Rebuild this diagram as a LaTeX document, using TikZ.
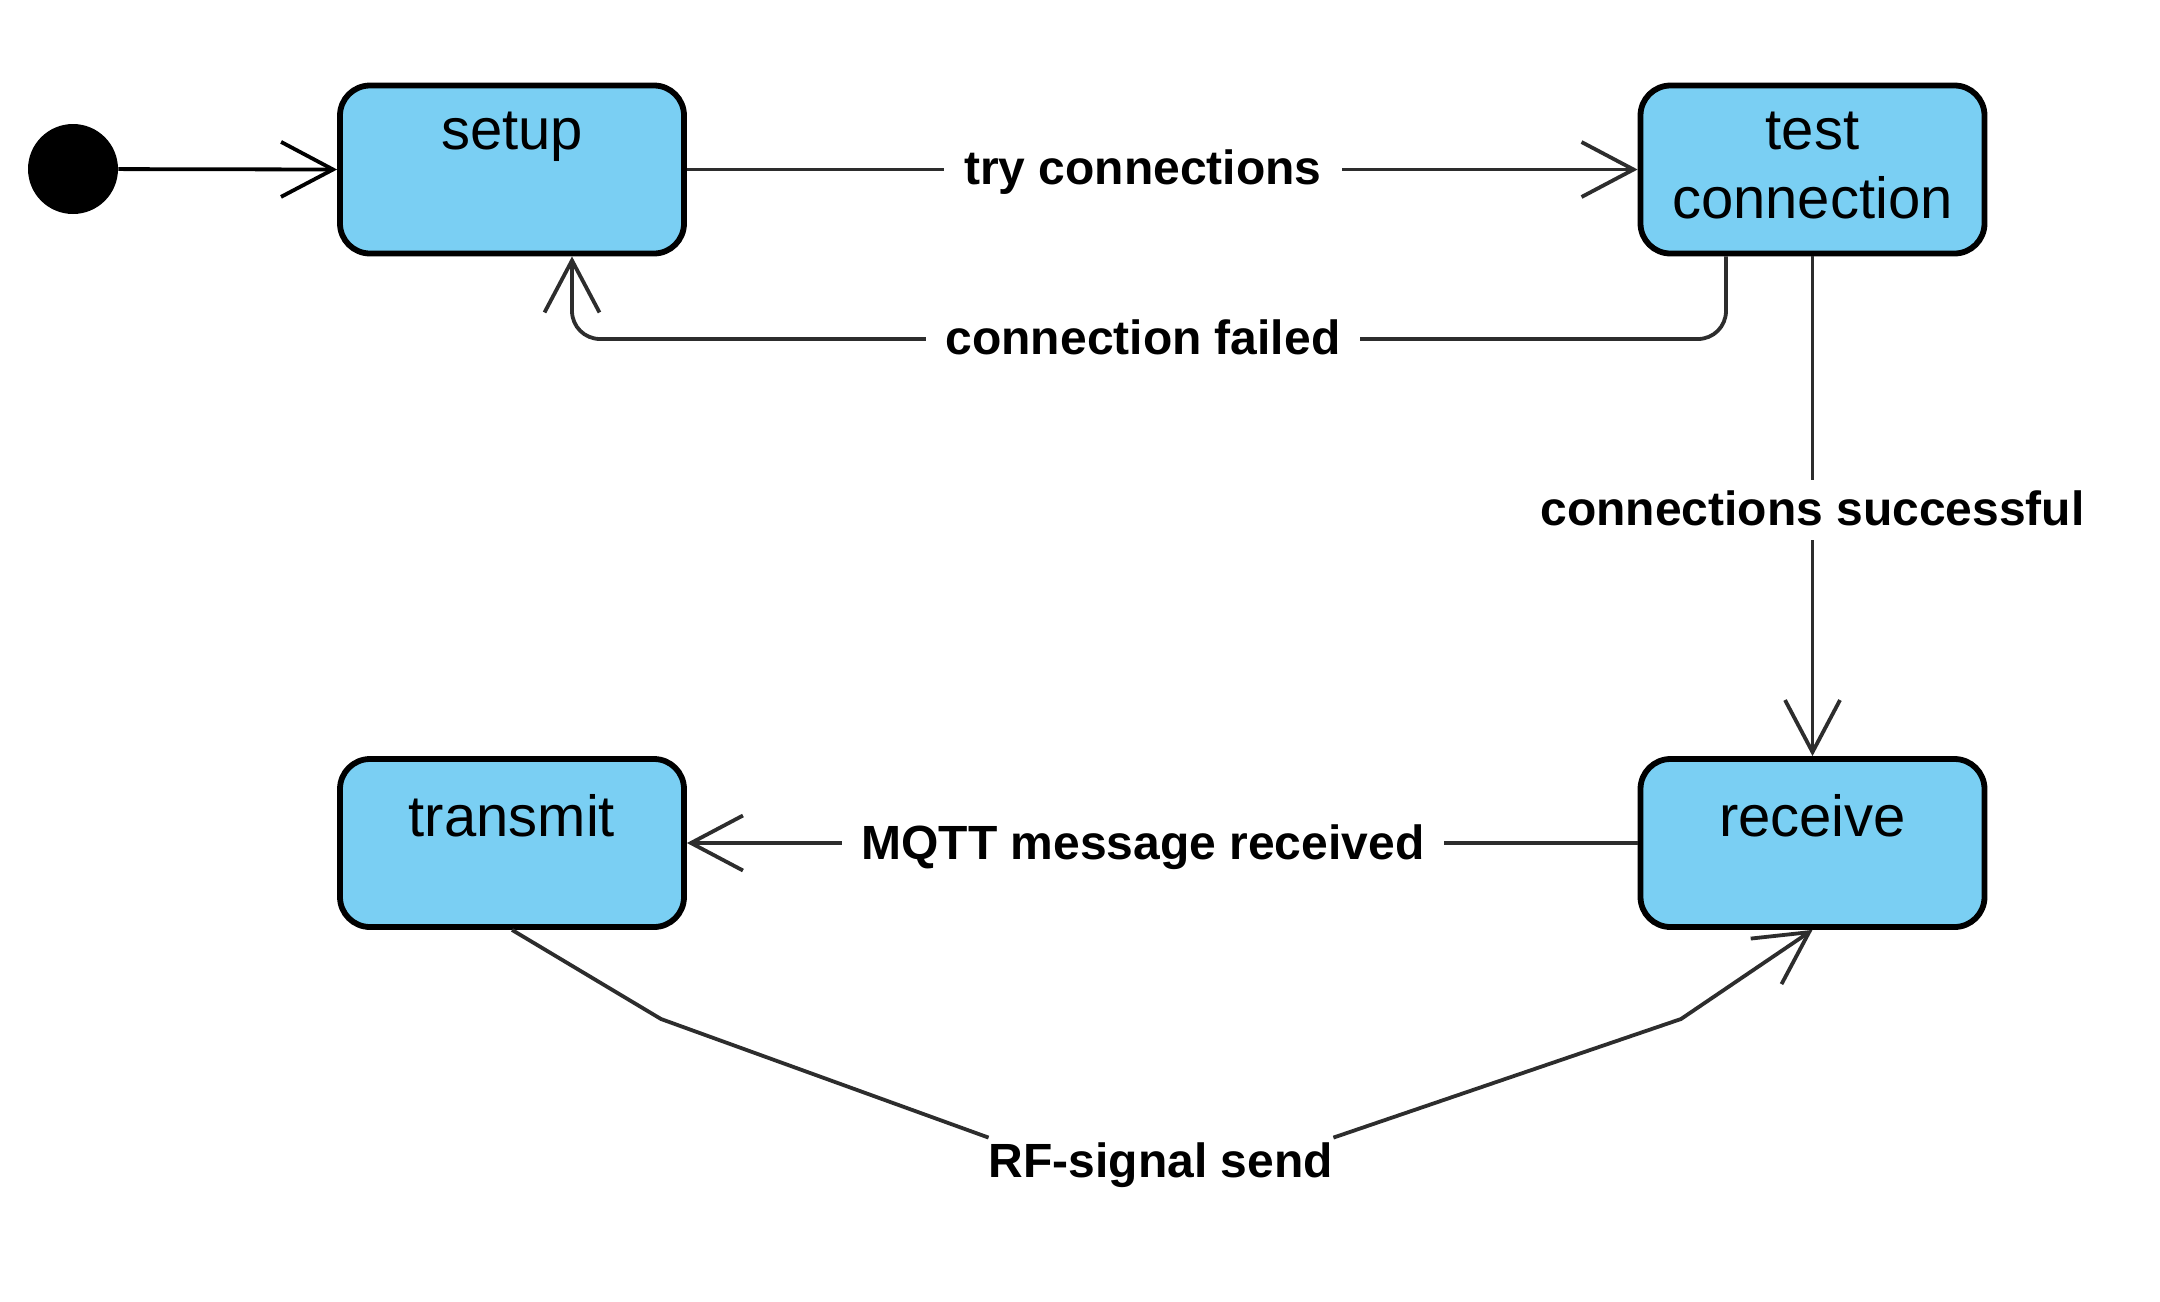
\documentclass[tikz,border=0pt]{standalone}
\usepackage{fontspec}
\setmainfont{Liberation Sans}
\usetikzlibrary{arrows.meta}
\definecolor{stfill}{RGB}{122,207,243}
\definecolor{conncol}{RGB}{45,45,45}
\begin{document}
\begin{tikzpicture}[x=0.5pt,y=-0.5pt,
  state/.style={draw=black, line width=2.9pt, fill=stfill, rounded corners=15pt,
    minimum width=172pt, minimum height=84pt, inner sep=0pt},
  stext/.style={anchor=base, font=\fontsize{29}{34}\selectfont, inner sep=0pt},
  lbl/.style={fill=white, font=\bfseries\fontsize{24}{28}\selectfont,
    text height=19.5pt, text depth=4.5pt, inner xsep=10pt, inner ysep=3pt},
  conn/.style={draw=conncol, line width=1.9pt,
    -{Straight Barb[length=26pt,width=27.5pt,line width=1.9pt]}},
]
\useasboundingbox (0,0) rectangle (2160,1302);

% states
\node[state] (setup) at (512,169.5) {};
\node[state] (test) at (1812.5,169.5) {};
\node[state] (transmit) at (512,843) {};
\node[state] (receive) at (1812.5,843) {};

\node[stext] (setupt) at (512,149) {setup};
\node[stext] (testt1) at (1812.5,149) {test};
\node[stext] (testt2) at (1812.5,218) {connection};
\node[stext] (transmitt) at (512,836) {transmit};
\node[stext] (receivet) at (1812.5,836) {receive};

% initial
\node[circle, fill=black, minimum size=45pt, inner sep=0pt] (init) at (73,169) {};

% connectors
\draw[conn, draw=black] (init) -- (setup.west);
\draw[conn] (setup.east) -- (test.west);
\coordinate (f1) at (1726,339);
\coordinate (f2) at (572,339);
\draw[conn, rounded corners=14pt] (f1 |- test.south) -- (f1) -- (f2) -- (f2 |- setup.south);
\draw[conn] (test.south) -- (receive.north);
\draw[conn] (receive.west) -- (transmit.east);

\node[lbl, inner sep=0pt] (rf) at (1161,1162) {RF-signal send};
\coordinate (r1) at (661,1019);
\coordinate (r2) at (1681,1019);
\draw[draw=conncol, line width=1.9pt] (transmit.south) -- (r1) -- (rf.north west);
\draw[conn] (rf.north east) -- (r2) -- (receive.south);

% labels
\node[lbl] (ltry) at (1143,169) {try connections};
\node[lbl] (lfail) at (1143,339) {connection failed};
\node[lbl] (lsucc) at (1812.5,510) {connections successful};
\node[lbl] (lmqtt) at (1143,844) {MQTT message received};
\end{tikzpicture}
\end{document}
